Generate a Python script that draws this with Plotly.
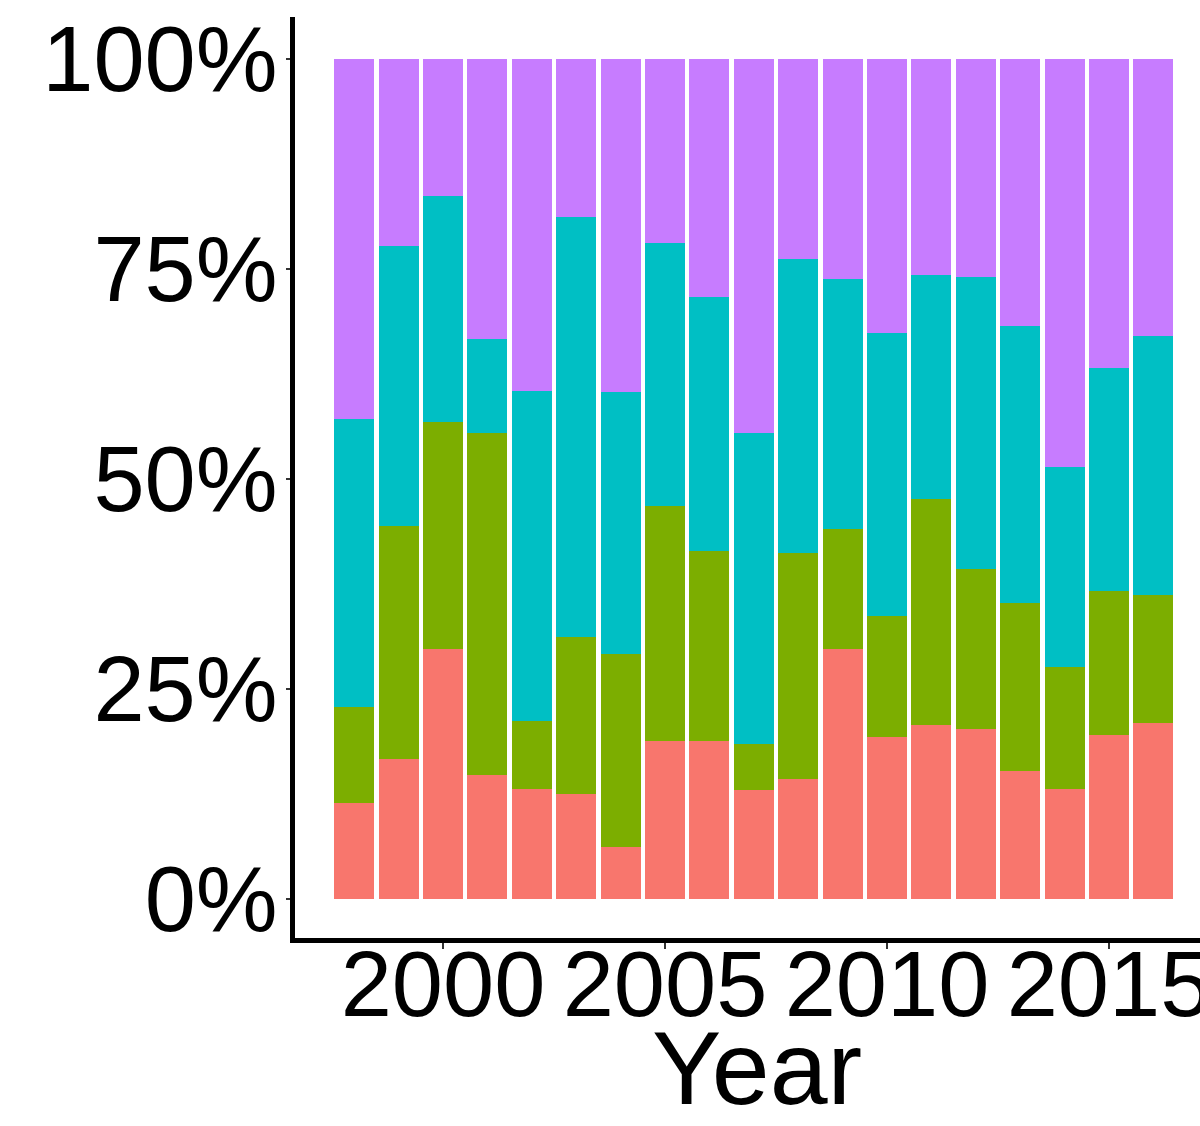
import plotly.graph_objects as go

years = list(range(1998, 2017))
series_names = ["Group A", "Group B", "Group C", "Group D"]
red_vals = [11.4, 16.7, 29.8, 14.8, 13.1, 12.5, 6.2, 18.8, 18.8, 13.0, 14.3, 29.8, 19.3, 20.7, 20.2, 15.2, 13.1, 19.5, 21.0]
green_vals = [11.5, 27.7, 27.0, 40.7, 8.1, 18.7, 23.0, 28.0, 22.6, 5.5, 26.9, 14.2, 14.4, 26.9, 19.1, 20.0, 14.5, 17.2, 15.2]
cyan_vals = [34.2, 33.3, 26.9, 11.2, 39.3, 50.0, 31.2, 31.3, 30.3, 37.0, 35.0, 29.8, 33.7, 26.7, 34.7, 33.0, 23.8, 26.5, 30.8]
purple_vals = [42.9, 22.3, 16.3, 33.3, 39.5, 18.8, 39.6, 21.9, 28.3, 44.5, 23.8, 26.2, 32.6, 25.7, 26.0, 31.8, 48.6, 36.8, 33.0]
y_tickvals = [0, 25, 50, 75, 100]
y_ticktext = ["0%", "25%", "50%", "75%", "100%"]
x_tickvals = [2000, 2005, 2010, 2015]
x_ticktext = ["2000", "2005", "2010", "2015"]

colors = ["#F8766D", "#7CAE00", "#00BFC4", "#C77CFF"]
all_vals = [red_vals, green_vals, cyan_vals, purple_vals]

FONT = "Liberation Sans, Arial, Helvetica, sans-serif"

W, H = 1200, 1126
L, T, B = 295, 17, 188

fig = go.Figure()
for name, vals, col in zip(series_names, all_vals, colors):
    fig.add_trace(go.Bar(x=years, y=vals, name=name, marker=dict(color=col, line=dict(width=0)), width=0.9))

fig.update_layout(
    barmode="stack",
    width=W, height=H,
    margin=dict(l=L, r=0, t=T, b=B, pad=0, autoexpand=False),
    paper_bgcolor="white", plot_bgcolor="white",
    showlegend=False,
    font=dict(family=FONT, color="black"),
    xaxis=dict(
        range=[1996.667, 2017.05], tickvals=x_tickvals, ticktext=x_ticktext,
        showline=True, linecolor="black", linewidth=5, showgrid=False, zeroline=False,
        ticks="outside", ticklen=6, tickwidth=2, tickcolor="#333333",
        ticklabelstandoff=-43, ticklabeloverflow="allow", automargin=False,
        tickfont=dict(size=92, family=FONT, color="black"),
    ),
    yaxis=dict(
        range=[-4.64, 105], tickvals=y_tickvals, ticktext=y_ticktext,
        showline=True, linecolor="black", linewidth=5, showgrid=False, zeroline=False,
        ticks="outside", ticklen=4, tickwidth=2, tickcolor="#333333",
        ticklabelstandoff=-10, automargin=False,
        tickfont=dict(size=92, family=FONT, color="black"),
    ),
    annotations=[dict(
        text="Year", x=(757 - L) / (W - L), y=-(1068 - (H - B)) / (H - B - T),
        xref="paper", yref="paper",
        xanchor="center", yanchor="middle", showarrow=False,
        font=dict(size=104, family=FONT, color="black"),
    )],
)

fig.write_html(
    "out.html",
    config={"displayModeBar": False},
    post_script="document.body.style.margin='0px';document.body.style.overflow='hidden';",
)
